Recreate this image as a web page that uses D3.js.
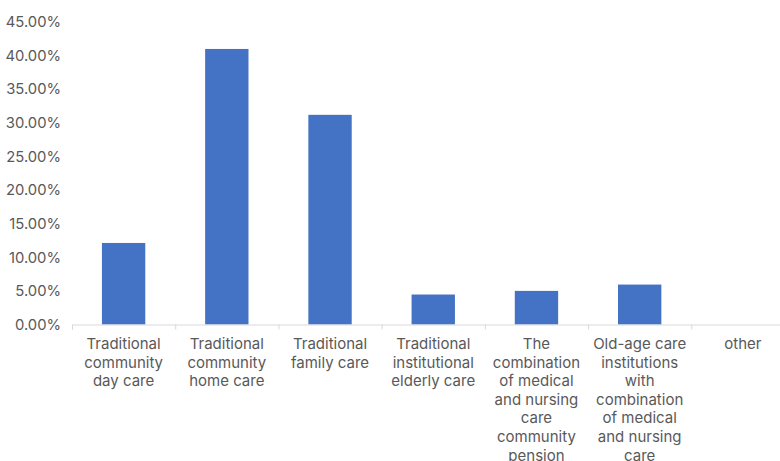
<!DOCTYPE html>
<html><head><meta charset="utf-8">
<script src="https://cdn.jsdelivr.net/npm/d3@7"></script>
<style>body{margin:0;background:#fff}svg{display:block}</style>
</head><body>
<svg id="c" width="780" height="461"></svg>
<script>
const categories = [
  "Traditional\ncommunity\nday care",
  "Traditional\ncommunity\nhome care",
  "Traditional\nfamily care",
  "Traditional\ninstitutional\nelderly care",
  "The\ncombination\nof medical\nand nursing\ncare\ncommunity\npension",
  "Old-age care\ninstitutions\nwith\ncombination\nof medical\nand nursing\ncare",
  "other"
];
const values = [0.1213, 0.4099, 0.3119, 0.0446, 0.0500, 0.0594, 0];
const yTicks = [0, 0.05, 0.10, 0.15, 0.20, 0.25, 0.30, 0.35, 0.40, 0.45];

const svg = d3.select("#c");
const font = "Inter, 'Noto Sans', sans-serif";
const x = d3.scaleBand().domain(d3.range(categories.length)).range([72, 794.5]).paddingInner(0.58).paddingOuter(0.29);
const y = d3.scaleLinear().domain([0, 0.45]).range([324.5, 22]);

// y axis labels
const yAxis = d3.axisLeft(y).tickValues(yTicks).tickFormat(d => (d*100).toFixed(2) + "%").tickSize(0).tickPadding(0);
const gy = svg.append("g").attr("transform", "translate(61,0)").call(yAxis);
gy.select(".domain").remove();
gy.selectAll("text").attr("fill", "#595959").style("font-family", font).style("font-size", "14.8px");

// bars
svg.append("g").selectAll("rect").data(values).join("rect")
  .attr("x", (d,i) => x(i)).attr("width", x.bandwidth())
  .attr("y", d => y(d)).attr("height", d => y(0) - y(d))
  .attr("fill", "#4472C4");

// x axis baseline + boundary ticks
const xb = d3.scaleLinear().domain([0, categories.length]).range([72, 794.5]);
const gx = svg.append("g").attr("transform", `translate(0,${y(0)})`)
  .call(d3.axisBottom(xb).tickValues(d3.range(categories.length + 1)).tickSize(5).tickFormat(""));
gx.selectAll("line, path").attr("stroke", "#d9d9d9");

// category labels
const lab = svg.append("g");
categories.forEach((c, i) => {
  const cx = x(i) + x.bandwidth() / 2;
  const t = lab.append("text").attr("text-anchor", "middle").attr("fill", "#595959")
    .style("font-family", font).style("font-size", "15px");
  c.split("\n").forEach((line, k) => {
    t.append("tspan").attr("x", cx).attr("y", 349 + k * 18.6).text(line);
  });
});
</script>
</body></html>
